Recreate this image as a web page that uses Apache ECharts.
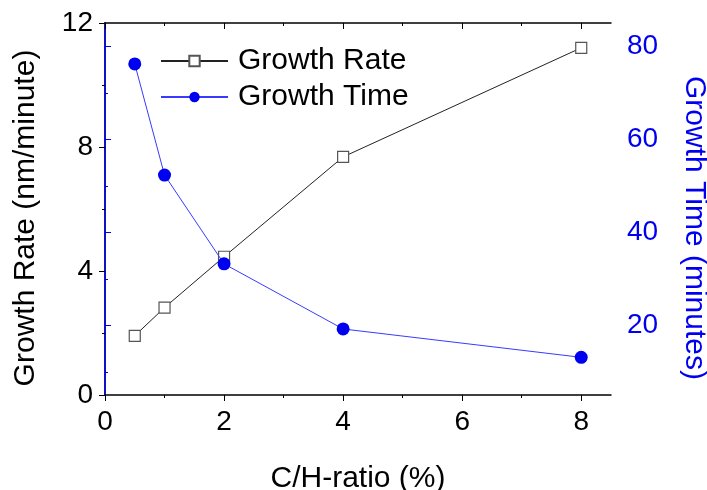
<!DOCTYPE html>
<html>
<head>
<meta charset="utf-8">
<script src="https://cdn.jsdelivr.net/npm/echarts@6/dist/echarts.min.js"></script>
<style>
  html, body { margin: 0; padding: 0; background: #ffffff; }
  #chart { width: 707px; height: 490px; }
</style>
</head>
<body>
<div id="chart"></div>
<script>
// C/H ratio (%) on the x axis
const ratios = [0.5, 1, 2, 4, 8];
// growth rate, nm/minute (left axis)
const growthRate = [1.91, 2.82, 4.46, 7.68, 11.2];
// growth time, minutes (right axis)
const growthTime = [76.2, 52.3, 33.2, 19.2, 13.1];

const xMajor = [0, 2, 4, 6, 8];
const xMinor = [1, 3, 5, 7];
const rightMajor = [20, 40, 60, 80];
const rightMinor = [10, 30, 50, 70];

const FONT = 'Liberation Sans, Arial, sans-serif';
const BLUE = '#0000f0';
const TICK_FS = 28;
const TITLE_FS = 30;

const chart = echarts.init(document.getElementById('chart'), null, { renderer: 'canvas' });

const pair = (xs, ys) => xs.map((x, i) => [x, ys[i]]);

chart.setOption({
  backgroundColor: '#ffffff',
  animation: false,
  grid: { left: 105, right: 96, top: 23, bottom: 95, containLabel: false, outerBoundsMode: 'none' },
  legend: {
    orient: 'vertical',
    left: 155,
    top: 41,
    itemWidth: 67,
    itemHeight: 13,
    itemGap: 6,
    textStyle: { fontFamily: FONT, fontSize: TITLE_FS, color: '#000', padding: [0, 0, 0, 5] },
    data: ['Growth Rate', 'Growth Time']
  },
  xAxis: [
    {
      type: 'value', position: 'bottom', min: 0, max: 8.5,
      name: 'C/H-ratio (%)', nameLocation: 'middle', nameGap: 69,
      nameTextStyle: { fontFamily: FONT, fontSize: TITLE_FS, color: '#000' },
      axisLine: { show: true, lineStyle: { color: '#000', width: 1.5 } },
      axisTick: { show: true, inside: false, length: 6, customValues: xMajor, lineStyle: { color: '#000' } },
      axisLabel: { show: true, customValues: xMajor, margin: 13, fontFamily: FONT, fontSize: TICK_FS, color: '#000' },
      splitLine: { show: false }
    },
    {
      type: 'value', position: 'bottom', min: 0, max: 8.5,
      axisLine: { show: false },
      axisTick: { show: true, inside: false, length: 3, customValues: xMinor, lineStyle: { color: '#000' } },
      axisLabel: { show: false },
      splitLine: { show: false }
    },
    {
      type: 'value', position: 'top', min: 0, max: 8.5,
      axisLine: { show: true, lineStyle: { color: '#000', width: 1.5 } },
      axisTick: { show: true, inside: true, length: 6, customValues: xMajor, lineStyle: { color: '#000' } },
      axisLabel: { show: false },
      splitLine: { show: false }
    },
    {
      type: 'value', position: 'top', min: 0, max: 8.5,
      axisLine: { show: false },
      axisTick: { show: true, inside: true, length: 3, customValues: xMinor, lineStyle: { color: '#000' } },
      axisLabel: { show: false },
      splitLine: { show: false }
    }
  ],
  yAxis: [
    {
      type: 'value', position: 'left', min: 0, max: 12, interval: 4,
      name: 'Growth Rate (nm/minute)', nameLocation: 'middle', nameGap: 64,
      nameTextStyle: { fontFamily: FONT, fontSize: TITLE_FS, color: '#000', padding: [0, 18, 0, 0] },
      axisLine: { show: true, lineStyle: { color: '#000', width: 1.5 } },
      axisTick: { show: true, inside: false, length: 6, lineStyle: { color: '#000' } },
      minorTick: { show: true, splitNumber: 2, length: 3, lineStyle: { color: '#000' } },
      axisLabel: { margin: 12, fontFamily: FONT, fontSize: TICK_FS, color: '#000' },
      splitLine: { show: false }
    },
    {
      type: 'value', position: 'right', min: 5, max: 85,
      name: 'Growth Time (minutes)', nameLocation: 'middle', nameGap: 68,
      nameRotate: -90,
      nameTextStyle: { fontFamily: FONT, fontSize: TITLE_FS, color: BLUE, padding: [0, 0, 0, 38] },
      axisLine: { show: true, lineStyle: { color: BLUE, width: 1.5 } },
      axisTick: { show: true, inside: false, length: 6, customValues: rightMajor, lineStyle: { color: BLUE } },
      axisLabel: { customValues: rightMajor, margin: 16, fontFamily: FONT, fontSize: TICK_FS, color: BLUE },
      splitLine: { show: false }
    },
    {
      type: 'value', position: 'right', min: 5, max: 85,
      axisLine: { show: false },
      axisTick: { show: true, inside: false, length: 3, customValues: rightMinor, lineStyle: { color: BLUE } },
      axisLabel: { show: false },
      splitLine: { show: false }
    }
  ],
  series: [
    {
      name: 'Growth Rate', type: 'line', xAxisIndex: 0, yAxisIndex: 0,
      data: pair(ratios, growthRate),
      symbol: 'rect', symbolSize: 11,
      lineStyle: { color: '#222', width: 1 },
      itemStyle: { color: '#ffffff', borderColor: '#555', borderWidth: 1.2 },
      z: 2
    },
    {
      name: 'Growth Time', type: 'line', xAxisIndex: 0, yAxisIndex: 1,
      data: pair(ratios, growthTime),
      symbol: 'circle', symbolSize: 13,
      lineStyle: { color: '#3a3aff', width: 1 },
      itemStyle: { color: BLUE, borderColor: BLUE, borderWidth: 0 },
      z: 3
    }
  ]
});
</script>
</body>
</html>
